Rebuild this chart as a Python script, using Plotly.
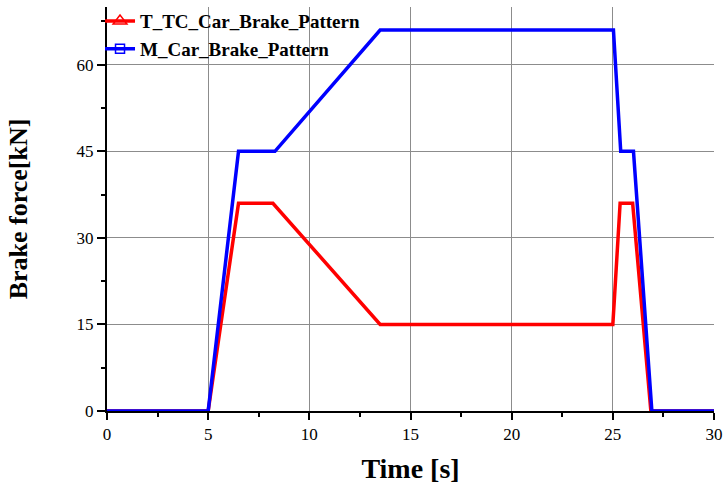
import plotly.graph_objects as go

# Data
time_tc = [0, 5, 6.5, 8.2, 13.5, 25.0, 25.07, 25.36, 25.98, 26.88, 30]
force_tc = [0, 0, 36, 36, 15, 15, 19, 36, 36, 0, 0]
time_m = [0, 5, 6.5, 8.3, 13.5, 25.03, 25.39, 26.02, 26.93, 30]
force_m = [0, 0, 45, 45, 66, 66, 45, 45, 0, 0]

name_tc = "T_TC_Car_Brake_Pattern"
name_m = "M_Car_Brake_Pattern"
x_ticks = [0, 5, 10, 15, 20, 25, 30]
y_ticks = [0, 15, 30, 45, 60]

RED = "#ff0000"
BLUE = "#0000ff"
SERIF = "Liberation Serif, Times New Roman, serif"

fig = go.Figure()
# data traces (legend shown through dedicated entries below)
fig.add_trace(go.Scatter(x=time_tc, y=force_tc, mode="lines", showlegend=False,
                         line=dict(color=RED, width=3.5)))
fig.add_trace(go.Scatter(x=time_m, y=force_m, mode="lines", showlegend=False,
                         line=dict(color=BLUE, width=3.5)))
# legend entries with markers
fig.add_trace(go.Scatter(x=[None], y=[None], mode="lines+markers", name=name_tc,
                         line=dict(color=RED, width=3.5),
                         marker=dict(symbol="triangle-up-open", size=12, color=RED,
                                     line=dict(width=1.5, color=RED))))
fig.add_trace(go.Scatter(x=[None], y=[None], mode="lines+markers", name=name_m,
                         line=dict(color=BLUE, width=3.5),
                         marker=dict(symbol="square-open", size=9, color=BLUE,
                                     line=dict(width=1.5, color=BLUE))))

fig.update_layout(
    width=724, height=485,
    margin=dict(l=107, r=10, t=7, b=74, autoexpand=False),
    paper_bgcolor="white", plot_bgcolor="white",
    font=dict(family=SERIF, color="black", size=17),
    legend=dict(x=-0.0115, y=1.012, xanchor="left", yanchor="top",
                bgcolor="rgba(0,0,0,0)", borderwidth=0,
                font=dict(family=SERIF, size=19, color="black", weight="bold"),
                tracegroupgap=0),
)
fig.update_xaxes(
    range=[0, 30], tickvals=x_ticks, ticks="outside", ticklen=7, tickwidth=2,
    tickcolor="black", showline=True, linecolor="black", linewidth=2,
    showgrid=True, gridcolor="#8c8c8c", gridwidth=1, zeroline=False, automargin=False,
    tickfont=dict(family=SERIF, size=17, color="black"),
    minor=dict(dtick=2.5, ticks="outside", ticklen=4, tickwidth=2, tickcolor="black", showgrid=False),
    title=dict(text="Time [s]", standoff=15,
               font=dict(family=SERIF, size=28, color="black", weight="bold")),
)
fig.update_yaxes(
    range=[0, 70], tickvals=y_ticks, ticks="outside", ticklen=8, tickwidth=2,
    tickcolor="black", showline=True, linecolor="black", linewidth=2,
    showgrid=True, gridcolor="#8c8c8c", gridwidth=1, zeroline=False, automargin=False,
    tickfont=dict(family=SERIF, size=17, color="black"),
    minor=dict(dtick=7.5, ticks="outside", ticklen=4, tickwidth=2, tickcolor="black", showgrid=False),
    title=dict(text="Brake force[kN]", standoff=41,
               font=dict(family=SERIF, size=26, color="black", weight="bold")),
)

fig.write_html("out.html", config={"displayModeBar": False},
               post_script="document.body.style.margin='0';document.body.style.overflow='hidden';")
